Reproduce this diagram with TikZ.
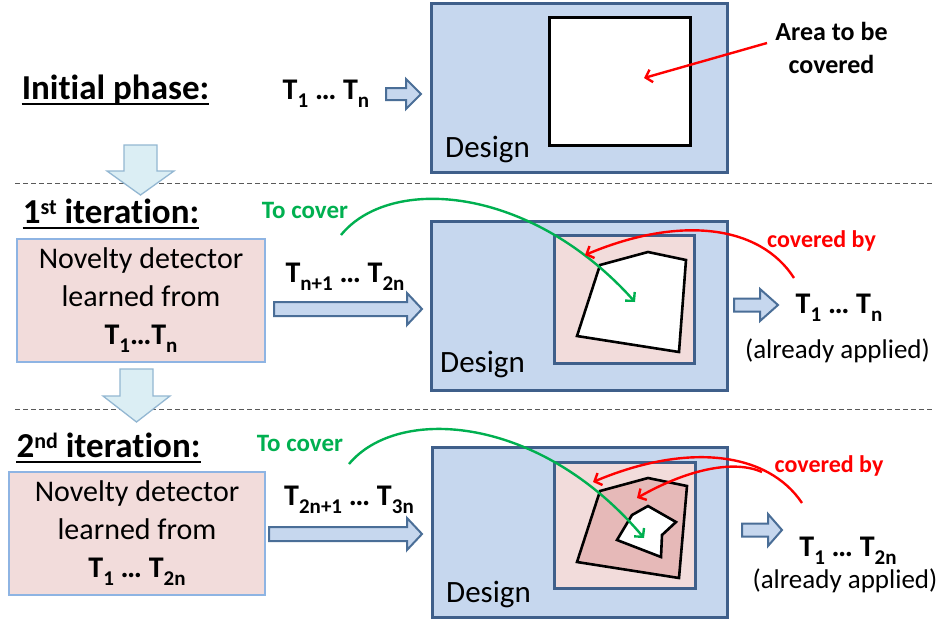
\documentclass[tikz,border=0pt]{standalone}
\usepackage{fontspec}
\setmainfont{Carlito}[Ligatures=NoCommon]
\usetikzlibrary{arrows.meta}

\definecolor{designfill}{HTML}{C6D7EE}
\definecolor{designline}{HTML}{3F5F8A}
\definecolor{pinkfill}{HTML}{F2DCDB}
\definecolor{rosefill}{HTML}{E6B9B8}
\definecolor{boxline}{HTML}{8EB4E3}
\definecolor{downfill}{HTML}{DBEEF4}
\definecolor{downline}{HTML}{93B7D2}
\definecolor{arrowline}{HTML}{4A6E97}
\definecolor{covergreen}{HTML}{00B050}
\definecolor{coverred}{HTML}{FF0000}

% lowered subscript and raised superscript for the labels
\newcommand\lsub[1]{\raisebox{-8pt}{\fontsize{21}{21}\selectfont #1}}
\newcommand\hsup[1]{\raisebox{9pt}{\fontsize{22}{22}\selectfont #1}}

% block arrow pointing right: x start, head start, tip x, centre y, half shaft, half head
\newcommand\rightblock[6]{%
  \draw[rblock] (#1,#4-#5) -- (#2,#4-#5) -- (#2,#4-#6) -- (#3,#4)
    -- (#2,#4+#6) -- (#2,#4+#5) -- (#1,#4+#5) -- cycle;}
% block arrow pointing down: centre x, top y, head start y, tip y, half shaft, half head
\newcommand\downblock[6]{%
  \draw[dblock] (#1-#5,#2) -- (#1+#5,#2) -- (#1+#5,#3) -- (#1+#6,#3)
    -- (#1,#4) -- (#1-#6,#3) -- (#1-#5,#3) -- cycle;}

\tikzset{
  heading/.style={inner sep=0pt, anchor=base, font=\fontsize{35}{40}\selectfont\bfseries},
  uline/.style={line width=2.4pt, black},
  tlabel/.style={inner sep=0pt, anchor=base, font=\fontsize{30}{36}\selectfont\bfseries},
  designbox/.style={draw=designline, fill=designfill, line width=3pt, inner sep=0pt},
  innerbox/.style={draw=designline, fill=pinkfill, line width=3pt, inner sep=0pt},
  whitebox/.style={draw=black, fill=white, line width=3pt, inner sep=0pt},
  region/.style={draw=black, line width=2.6pt, line join=miter},
  designlabel/.style={inner sep=0pt, anchor=base west, font=\fontsize{31}{36}\selectfont},
  detector/.style={draw=boxline, fill=pinkfill, line width=1.3pt, inner sep=0pt,
    align=center, font=\fontsize{30}{38}\selectfont},
  rblock/.style={draw=arrowline, fill=designfill, line width=2pt, line join=miter},
  dblock/.style={draw=downline, fill=downfill, line width=1.3pt, line join=miter},
  separator/.style={draw=black!65, line width=1pt, dash pattern=on 5pt off 3pt},
  greenarrow/.style={draw=covergreen, line width=2.4pt,
    -{Straight Barb[length=6pt,width=13pt,line width=2.4pt]}},
  redarrow/.style={draw=coverred, line width=2.4pt,
    -{Straight Barb[length=6pt,width=13pt,line width=2.4pt]}},
  greentext/.style={inner sep=0pt, anchor=base, text=covergreen,
    font=\fontsize{25}{30}\selectfont\bfseries},
  redtext/.style={inner sep=0pt, anchor=base, text=coverred,
    font=\fontsize{24}{30}\selectfont\bfseries},
  blacknote/.style={inner sep=0pt, anchor=base, font=\fontsize{26}{32}\selectfont\bfseries},
  applied/.style={inner sep=0pt, anchor=base, font=\fontsize{27}{32}\selectfont},
}

\begin{document}
\begin{tikzpicture}[x=1pt, y=-1pt]
\useasboundingbox[fill=white] (0,0) rectangle (943,619);

% separators between the phases
\draw[separator] (15,183.5) -- (933,183.5);
\draw[separator] (15,409.5) -- (933,409.5);

% ---------- initial phase ----------
\node[heading] (ip) at (115.5,99) {Initial phase:};
\draw[uline] ([yshift=-5pt]ip.base west) -- ([yshift=-5pt]ip.base east);
\node[tlabel] (t0) at (326,99) {T\lsub{1} … T\lsub{n}};
\rightblock{386}{406}{421}{94}{6}{15}

\node[designbox, minimum width=296pt, minimum height=169pt] (d1) at (579,87.5) {};
\node[whitebox, minimum width=141pt, minimum height=128pt] (s1) at (619.5,81) {};
\node[designlabel] (l1) at (445,157) {Design};

\node[blacknote] (area1) at (831.5,40) {Area to be};
\node[blacknote] (area2) at (831.5,73) {covered};
\coordinate (a1s) at (767,43);
\coordinate (a1e) at (644,78);
\draw[redarrow] (a1s) -- (a1e);

\downblock{140.5}{145}{171}{195}{16.5}{33.5}

% ---------- first iteration ----------
\node[heading] (it1) at (111,223) {1\hsup{st} iteration:};
\draw[uline] ([yshift=-5pt]it1.base west) -- ([yshift=-5pt]it1.base east);
\node[detector, minimum width=248pt, minimum height=123pt] (nd1) at (141,300.5)
  {Novelty detector\\learned from\\\textbf{T\lsub{1}…T\lsub{n}}};
\node[tlabel] (t1) at (345,282) {T\lsub{n+1} … T\lsub{2n}};
\rightblock{274}{407}{422}{309}{7}{16}

\node[designbox, minimum width=296pt, minimum height=169pt] (d2) at (579,305.5) {};
\node[innerbox, minimum width=140pt, minimum height=128pt] (s2) at (624,299) {};
\draw[region, fill=white] (600,265) -- (648,252) -- (686,260) -- (679,352) -- (577,336) -- cycle;
\node[designlabel] (l2) at (440,372) {Design};

\node[greentext] (tc1) at (305,218) {To cover};
\coordinate (g1s) at (341,235);
\coordinate (g1e) at (635,302);
\draw[greenarrow] (g1s) .. controls (390,175) and (530,185) .. (g1e);

\node[redtext] (cb1) at (821.5,247) {covered by};
\coordinate (r1s) at (794,278);
\coordinate (r1e) at (585,255);
\draw[redarrow] (r1s) .. controls (760,225) and (680,215) .. (r1e);

\rightblock{734}{760}{778}{305}{6.5}{16}
\node[tlabel] (t1r) at (839,313) {T\lsub{1} … T\lsub{n}};
\node[applied] (ap1) at (837.5,358) {(already applied)};

\downblock{136.5}{369}{396}{422}{16.5}{33.5}

% ---------- second iteration ----------
\node[heading] (it2) at (108.5,457) {2\hsup{nd} iteration:};
\draw[uline] ([yshift=-5pt]it2.base west) -- ([yshift=-5pt]it2.base east);
\node[detector, minimum width=256pt, minimum height=123pt] (nd2) at (137,533.5)
  {Novelty detector\\learned from\\\textbf{T\lsub{1} … T\lsub{2n}}};
\node[tlabel] (t2) at (349,505) {T\lsub{2n+1} … T\lsub{3n}};
\rightblock{269}{407}{422}{534}{7}{16}

\node[designbox, minimum width=295pt, minimum height=170pt] (d3) at (579.5,532) {};
\node[innerbox, minimum width=141pt, minimum height=126pt] (s3) at (624.5,525) {};
\draw[region, fill=rosefill] (600,491) -- (648,478) -- (687,486) -- (679,578) -- (577,562) -- cycle;
\draw[region, fill=white] (632,515) -- (648,506) -- (676,522) -- (662,535) -- (661,557) -- (617,540) -- cycle;
\node[designlabel] (l3) at (446,602) {Design};

\node[greentext] (tc2) at (300,451) {To cover};
\coordinate (g2s) at (349,464);
\coordinate (g2e) at (644,538);
\draw[greenarrow] (g2s) .. controls (398,405) and (540,415) .. (g2e);

\node[redtext] (cb2) at (829,472) {covered by};
\coordinate (r2s) at (802,503);
\coordinate (r2e) at (593,482);
\coordinate (r3s) at (762,472);
\coordinate (r3e) at (637,498);
\draw[redarrow] (r2s) .. controls (768,452) and (688,442) .. (r2e);
\draw[redarrow] (r3s) .. controls (735,460) and (690,468) .. (r3e);

\rightblock{742}{768}{782}{530}{6.5}{16}
\node[tlabel] (t2r) at (848,556) {T\lsub{1} … T\lsub{2n}};
\node[applied] (ap2) at (845,588) {(already applied)};
\end{tikzpicture}
\end{document}
